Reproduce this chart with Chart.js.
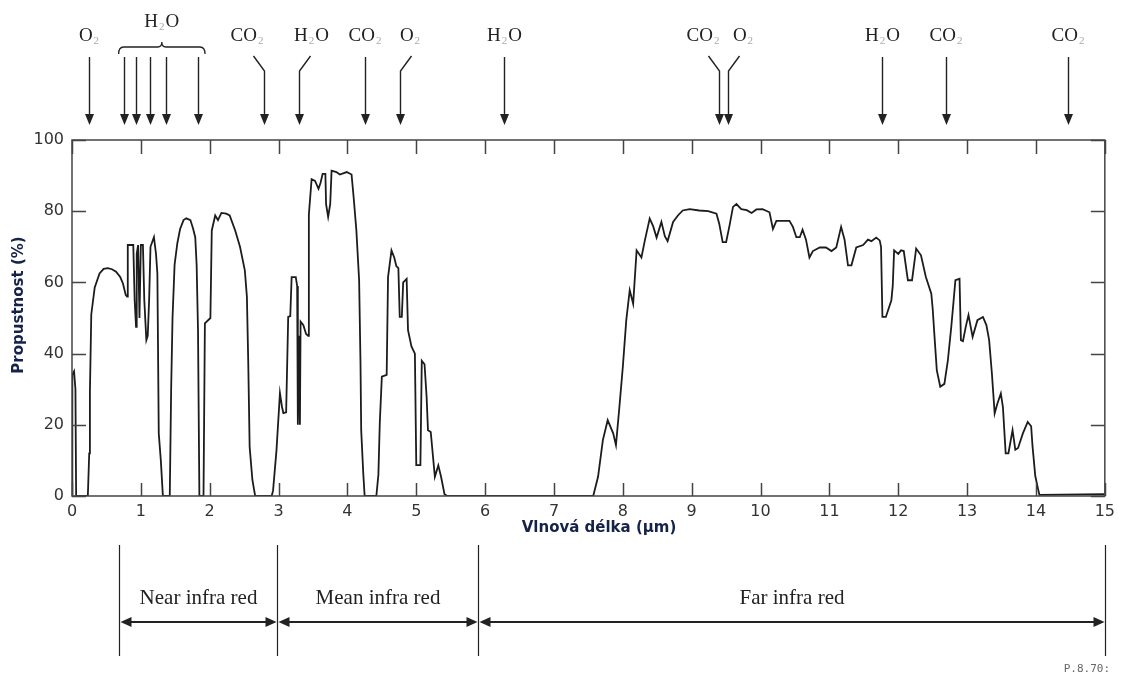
<!DOCTYPE html>
<html>
<head>
<meta charset="utf-8">
<script src="https://cdn.jsdelivr.net/npm/chart.js@4.4.1/dist/chart.umd.min.js"></script>
<style>
  html, body { margin: 0; padding: 0; background: #fff; }
  #wrap { width: 1121px; height: 679px; }
</style>
</head>
<body>
<div id="wrap"><canvas id="transmission"></canvas></div>
<script>
// atmospheric transmission, wavelength in µm, transmittance in %
const wavelength = [
  0.00, 0.005, 0.03, 0.05, 0.06, 0.23, 0.25, 0.26, 0.28, 0.33, 0.40, 0.46, 0.52, 0.58, 0.64, 0.70, 0.74, 0.78, 0.80,
  0.81, 0.89, 0.91, 0.93, 0.94, 0.96, 0.98, 1.00, 1.03, 1.05, 1.08, 1.10, 1.12, 1.14, 1.19, 1.22, 1.24, 1.26, 1.29, 1.32,
  1.42, 1.44, 1.46, 1.49, 1.53, 1.57, 1.62, 1.66, 1.72, 1.76, 1.79, 1.81, 1.83, 1.85,
  1.91, 1.93, 2.01, 2.03, 2.08, 2.12, 2.17, 2.24, 2.29, 2.37, 2.44, 2.51, 2.54, 2.56, 2.58, 2.62, 2.66,
  2.90, 2.92, 2.97, 3.02, 3.05, 3.07, 3.11, 3.14, 3.17, 3.19, 3.25, 3.27, 3.28, 3.30, 3.31, 3.32, 3.36, 3.40, 3.43,
  3.44, 3.48, 3.53, 3.58, 3.61, 3.64, 3.68, 3.69, 3.72, 3.75, 3.77, 3.84, 3.89, 3.99, 4.06, 4.09, 4.13, 4.17, 4.19,
  4.20, 4.23, 4.25, 4.42, 4.45, 4.47, 4.50, 4.57, 4.59, 4.64, 4.68, 4.71, 4.74, 4.76, 4.79, 4.81, 4.86, 4.88, 4.93,
  4.98, 5.00, 5.06, 5.08, 5.12, 5.15, 5.17, 5.21, 5.27, 5.32, 5.36, 5.41, 5.45,
  7.57, 7.64, 7.71, 7.78, 7.86, 7.90, 7.95, 8.00, 8.05, 8.10, 8.15, 8.20, 8.27, 8.32, 8.39, 8.44, 8.49, 8.56, 8.61,
  8.65, 8.73, 8.80, 8.87, 8.97, 9.11, 9.24, 9.36, 9.40, 9.45, 9.50, 9.55, 9.60, 9.65, 9.72, 9.80, 9.87, 9.94,
  10.03, 10.13, 10.18, 10.23, 10.32, 10.42, 10.47, 10.52, 10.57, 10.61, 10.66, 10.71, 10.76, 10.86, 10.95, 11.03,
  11.10, 11.17, 11.22, 11.27, 11.32, 11.39, 11.49, 11.56, 11.61, 11.68, 11.73, 11.75, 11.77, 11.82, 11.90, 11.92,
  11.94, 12.00, 12.04, 12.08, 12.14, 12.20, 12.26, 12.33, 12.40, 12.48, 12.50, 12.53, 12.56, 12.61, 12.67, 12.72,
  12.77, 12.80, 12.83, 12.89, 12.91, 12.94, 12.98, 13.02, 13.08, 13.15, 13.23, 13.28, 13.32, 13.36, 13.40, 13.44,
  13.49, 13.52, 13.56, 13.60, 13.66, 13.70, 13.74, 13.81, 13.88, 13.93, 13.95, 13.99, 14.03, 14.05, 15.00
]
const transmittance = [
  0, 34, 35, 30, 0, 0, 12, 29, 51, 58.6, 62.5, 63.8, 64, 63.7, 63, 61.5, 59.7, 56.5, 56,
  70.5, 70.5, 55, 47.5, 68, 70.5, 50, 70.5, 70.5, 55, 43.8, 45, 55, 70, 72.7, 68, 62.5, 17.6, 10, 0,
  0, 30, 50, 65, 71, 75, 77.5, 78, 77.5, 75, 72.7, 65, 46.6, 0,
  0, 48.5, 50, 74.6, 78.8, 77.5, 79.5, 79.3, 78.8, 74.6, 70, 63.4, 56, 37.3, 13.8, 4.5, 0,
  0, 1.5, 12.9, 28.9, 25, 23.3, 23.5, 50.3, 50.5, 61.5, 61.5, 59, 20, 45, 20, 49, 48, 45.5, 45,
  79, 89, 88.5, 86.3, 88, 90.5, 90.5, 82, 78.4, 82, 91.4, 91, 90.3, 91, 90.3, 84, 74.6, 60.6, 37.3,
  18.5, 6.4, 0, 0, 6, 20.5, 33.5, 34, 61.5, 69, 67, 64.6, 64, 50.3, 50.3, 60, 61, 46.6, 42,
  40, 8.7, 8.7, 38, 37, 27.9, 18.5, 18, 5.4, 8.6, 5.4, 0.5, 0,
  0, 5.4, 15.7, 21.3, 17.6, 14.3, 25, 36.3, 49.4, 57.8, 54, 69, 67, 71.8, 77.9, 75.8, 72.6, 77, 73,
  71.6, 77, 78.8, 80.2, 80.6, 80.2, 80, 79.3, 76.5, 71.3, 71.3, 76, 81.2, 82, 80.6, 80.3, 79.5, 80.5,
  80.6, 79.7, 75, 77.3, 77.3, 77.3, 75.6, 72.7, 72.7, 74.8, 72, 67, 68.8, 69.8, 69.8, 68.8,
  69.8, 75.6, 72, 64.8, 64.8, 69.8, 70.5, 72, 71.6, 72.6, 71.8, 70, 50.3, 50.3, 55, 59,
  69, 68, 69, 68.8, 60.6, 60.6, 69.5, 67.6, 61.6, 56.8, 52.6, 43.8, 35.3, 30.7, 31.5, 38,
  47.5, 54, 60.6, 61, 43.8, 43.5, 47.5, 50.8, 44.7, 49.4, 50.3, 48, 43.8, 34.4, 23.2, 26,
  28.8, 25, 12, 12, 18.5, 13, 13.5, 17.6, 20.8, 19.6, 14, 5.6, 2, 0.3, 0.5
]

// absorption bands marked with arrows above the plot
const absorptionAt = [0.25, 0.75, 0.93, 1.13, 1.36, 1.83, 2.79, 3.29, 4.25, 4.76, 6.27, 9.40, 9.53, 11.76, 12.70, 14.47]
const absorptionGas = ["O2", "H2O", "H2O", "H2O", "H2O", "H2O", "CO2", "H2O", "CO2", "O2", "H2O", "CO2", "O2", "H2O", "CO2", "CO2"]

// infrared regions below the axis
const regionEdges = [0.68, 2.98, 5.89, 15]
const regionNames = ["Near infra red", "Mean infra red", "Far infra red"]

const ink = "#222"
const frameColor = "#444"

// arrows whose label sits to one side get a bent shaft (px shift of the label)
const labelShift = { 6: -17, 7: 12, 9: 10, 11: -16, 12: 15 }
const waterGroup = [1, 2, 3, 4, 5]

const drawFormula = (ctx, text, cx, baseline) => {
  const parts = text.match(/[A-Z][a-z]?|\d+/g)
  const big = "19px 'Liberation Serif', serif"
  const small = "11px 'Liberation Serif', serif"
  let width = 0
  parts.forEach(p => {
    ctx.font = /\d/.test(p) ? small : big
    width += ctx.measureText(p).width + (/\d/.test(p) ? 2 : 0)
  })
  let x = cx - width / 2
  ctx.save()
  ctx.textAlign = "left"
  ctx.textBaseline = "alphabetic"
  parts.forEach(p => {
    if (/\d/.test(p)) {
      ctx.font = small
      ctx.fillStyle = "#aaa"
      ctx.fillText(p, x + 1, baseline + 3)
      x += ctx.measureText(p).width + 2
    } else {
      ctx.font = big
      ctx.fillStyle = ink
      ctx.fillText(p, x, baseline)
      x += ctx.measureText(p).width
    }
  })
  ctx.restore()
}

const arrowHead = (ctx, x, tipY) => {
  ctx.fillStyle = ink
  ctx.beginPath()
  ctx.moveTo(x, tipY)
  ctx.lineTo(x - 4.5, tipY - 11)
  ctx.lineTo(x + 4.5, tipY - 11)
  ctx.closePath()
  ctx.fill()
}

const sideHead = (ctx, x, y, dir) => {
  // dir: -1 = pointing left, 1 = pointing right
  ctx.fillStyle = ink
  ctx.beginPath()
  ctx.moveTo(x, y)
  ctx.lineTo(x - 11 * dir, y - 5)
  ctx.lineTo(x - 11 * dir, y + 5)
  ctx.closePath()
  ctx.fill()
}

const decorations = {
  id: "decorations",
  beforeDraw: (chart) => {
    const { ctx } = chart
    ctx.save()
    ctx.fillStyle = "#fff"
    ctx.fillRect(0, 0, chart.width, chart.height)
    ctx.restore()
  },
  afterDraw: (chart) => {
    const { ctx, chartArea: area } = chart
    const xs = chart.scales.x
    const ys = chart.scales.y
    ctx.save()

    // frame with inward ticks on all four sides
    ctx.strokeStyle = frameColor
    ctx.lineWidth = 1.5
    ctx.strokeRect(area.left, area.top, area.right - area.left, area.bottom - area.top)
    ctx.beginPath()
    xs.ticks.forEach(t => {
      const x = Math.round(xs.getPixelForValue(t.value)) + 0.5
      ctx.moveTo(x, area.bottom); ctx.lineTo(x, area.bottom - 13)
      ctx.moveTo(x, area.top); ctx.lineTo(x, area.top + 14)
    })
    ys.ticks.forEach(t => {
      const y = Math.round(ys.getPixelForValue(t.value)) + 0.5
      ctx.moveTo(area.left, y); ctx.lineTo(area.left + 14, y)
      ctx.moveTo(area.right, y); ctx.lineTo(area.right - 14, y)
    })
    ctx.stroke()

    // axis titles
    ctx.fillStyle = "#15234a"
    ctx.font = "bold 15px 'DejaVu Sans', sans-serif"
    ctx.textAlign = "center"
    ctx.textBaseline = "middle"
    ctx.fillText("Vlnová délka (µm)", 599, 528)
    ctx.save()
    ctx.translate(19, 305)
    ctx.rotate(-Math.PI / 2)
    ctx.fillText("Propustnost (%)", 0, 0)
    ctx.restore()

    // gas absorption arrows
    ctx.strokeStyle = ink
    ctx.lineWidth = 1.4
    const tipY = 125
    absorptionAt.forEach((w, i) => {
      const x = Math.round(xs.getPixelForValue(w)) + 0.5
      const shift = labelShift[i]
      ctx.beginPath()
      if (shift) {
        ctx.moveTo(x + Math.sign(shift) * 11, 56)
        ctx.lineTo(x, 71)
      } else {
        ctx.moveTo(x, 57)
      }
      ctx.lineTo(x, tipY - 8)
      ctx.stroke()
      arrowHead(ctx, x, tipY)
      if (!waterGroup.includes(i))
        drawFormula(ctx, absorptionGas[i], x + (shift || 0), 41)
    })

    // brace over the water lines near 1 µm
    const bx1 = xs.getPixelForValue(absorptionAt[waterGroup[0]]) - 5
    const bx2 = xs.getPixelForValue(absorptionAt[waterGroup[waterGroup.length - 1]]) + 7
    const bc = (bx1 + bx2) / 2
    ctx.lineWidth = 1.3
    ctx.beginPath()
    ctx.moveTo(bx1, 54)
    ctx.quadraticCurveTo(bx1, 47, bx1 + 5, 47)
    ctx.lineTo(bc - 4, 47)
    ctx.quadraticCurveTo(bc, 47, bc, 42)
    ctx.quadraticCurveTo(bc, 47, bc + 4, 47)
    ctx.lineTo(bx2 - 5, 47)
    ctx.quadraticCurveTo(bx2, 47, bx2, 54)
    ctx.stroke()
    drawFormula(ctx, "H2O", bc, 27)

    // infrared regions
    ctx.strokeStyle = ink
    ctx.fillStyle = ink
    ctx.lineWidth = 1.2
    const edges = regionEdges.map(w => Math.round(xs.getPixelForValue(w)) + 0.5)
    ctx.beginPath()
    edges.forEach(x => { ctx.moveTo(x, 545); ctx.lineTo(x, 656) })
    ctx.stroke()
    ctx.lineWidth = 1.8
    regionNames.forEach((name, i) => {
      const a = edges[i] + 1
      const b = edges[i + 1] - 1
      ctx.beginPath()
      ctx.moveTo(a + 8, 622)
      ctx.lineTo(b - 8, 622)
      ctx.stroke()
      sideHead(ctx, a, 622, -1)
      sideHead(ctx, b, 622, 1)
      ctx.fillStyle = ink
      ctx.font = "21px 'Liberation Serif', serif"
      ctx.textAlign = "center"
      ctx.textBaseline = "alphabetic"
      ctx.fillText(name, (a + b) / 2, 604)
    })

    ctx.font = "11px 'DejaVu Sans Mono', monospace"
    ctx.fillStyle = "#666"
    ctx.textAlign = "right"
    ctx.fillText("P.8.70:", 1110, 672)

    ctx.restore()
  }
}

new Chart(document.getElementById("transmission"), {
  type: "scatter",
  data: {
    datasets: [{
      label: "Propustnost",
      data: wavelength.map((w, i) => ({ x: w, y: transmittance[i] })),
      showLine: true,
      borderColor: "#1c1c1c",
      borderWidth: 1.8,
      pointRadius: 0,
      tension: 0
    }]
  },
  options: {
    responsive: true,
    maintainAspectRatio: false,
    animation: false,
    layout: { padding: { left: 0, top: 140, right: 16, bottom: 143 } },
    plugins: {
      legend: { display: false },
      tooltip: { enabled: false }
    },
    scales: {
      x: {
        type: "linear",
        min: 0,
        max: 15,
        grid: { display: false, drawTicks: false },
        border: { display: false },
        ticks: {
          stepSize: 1,
          padding: 6,
          color: "#333",
          font: { size: 16, family: "'DejaVu Sans', sans-serif" }
        },
        afterFit: (scale) => { scale.height = 40 }
      },
      y: {
        min: 0,
        max: 100,
        grid: { display: false, drawTicks: false },
        border: { display: false },
        ticks: {
          stepSize: 20,
          padding: 8,
          color: "#333",
          font: { size: 16, family: "'DejaVu Sans', sans-serif" }
        },
        afterFit: (scale) => { scale.width = 72 }
      }
    }
  },
  plugins: [decorations]
})
</script>
</body>
</html>
